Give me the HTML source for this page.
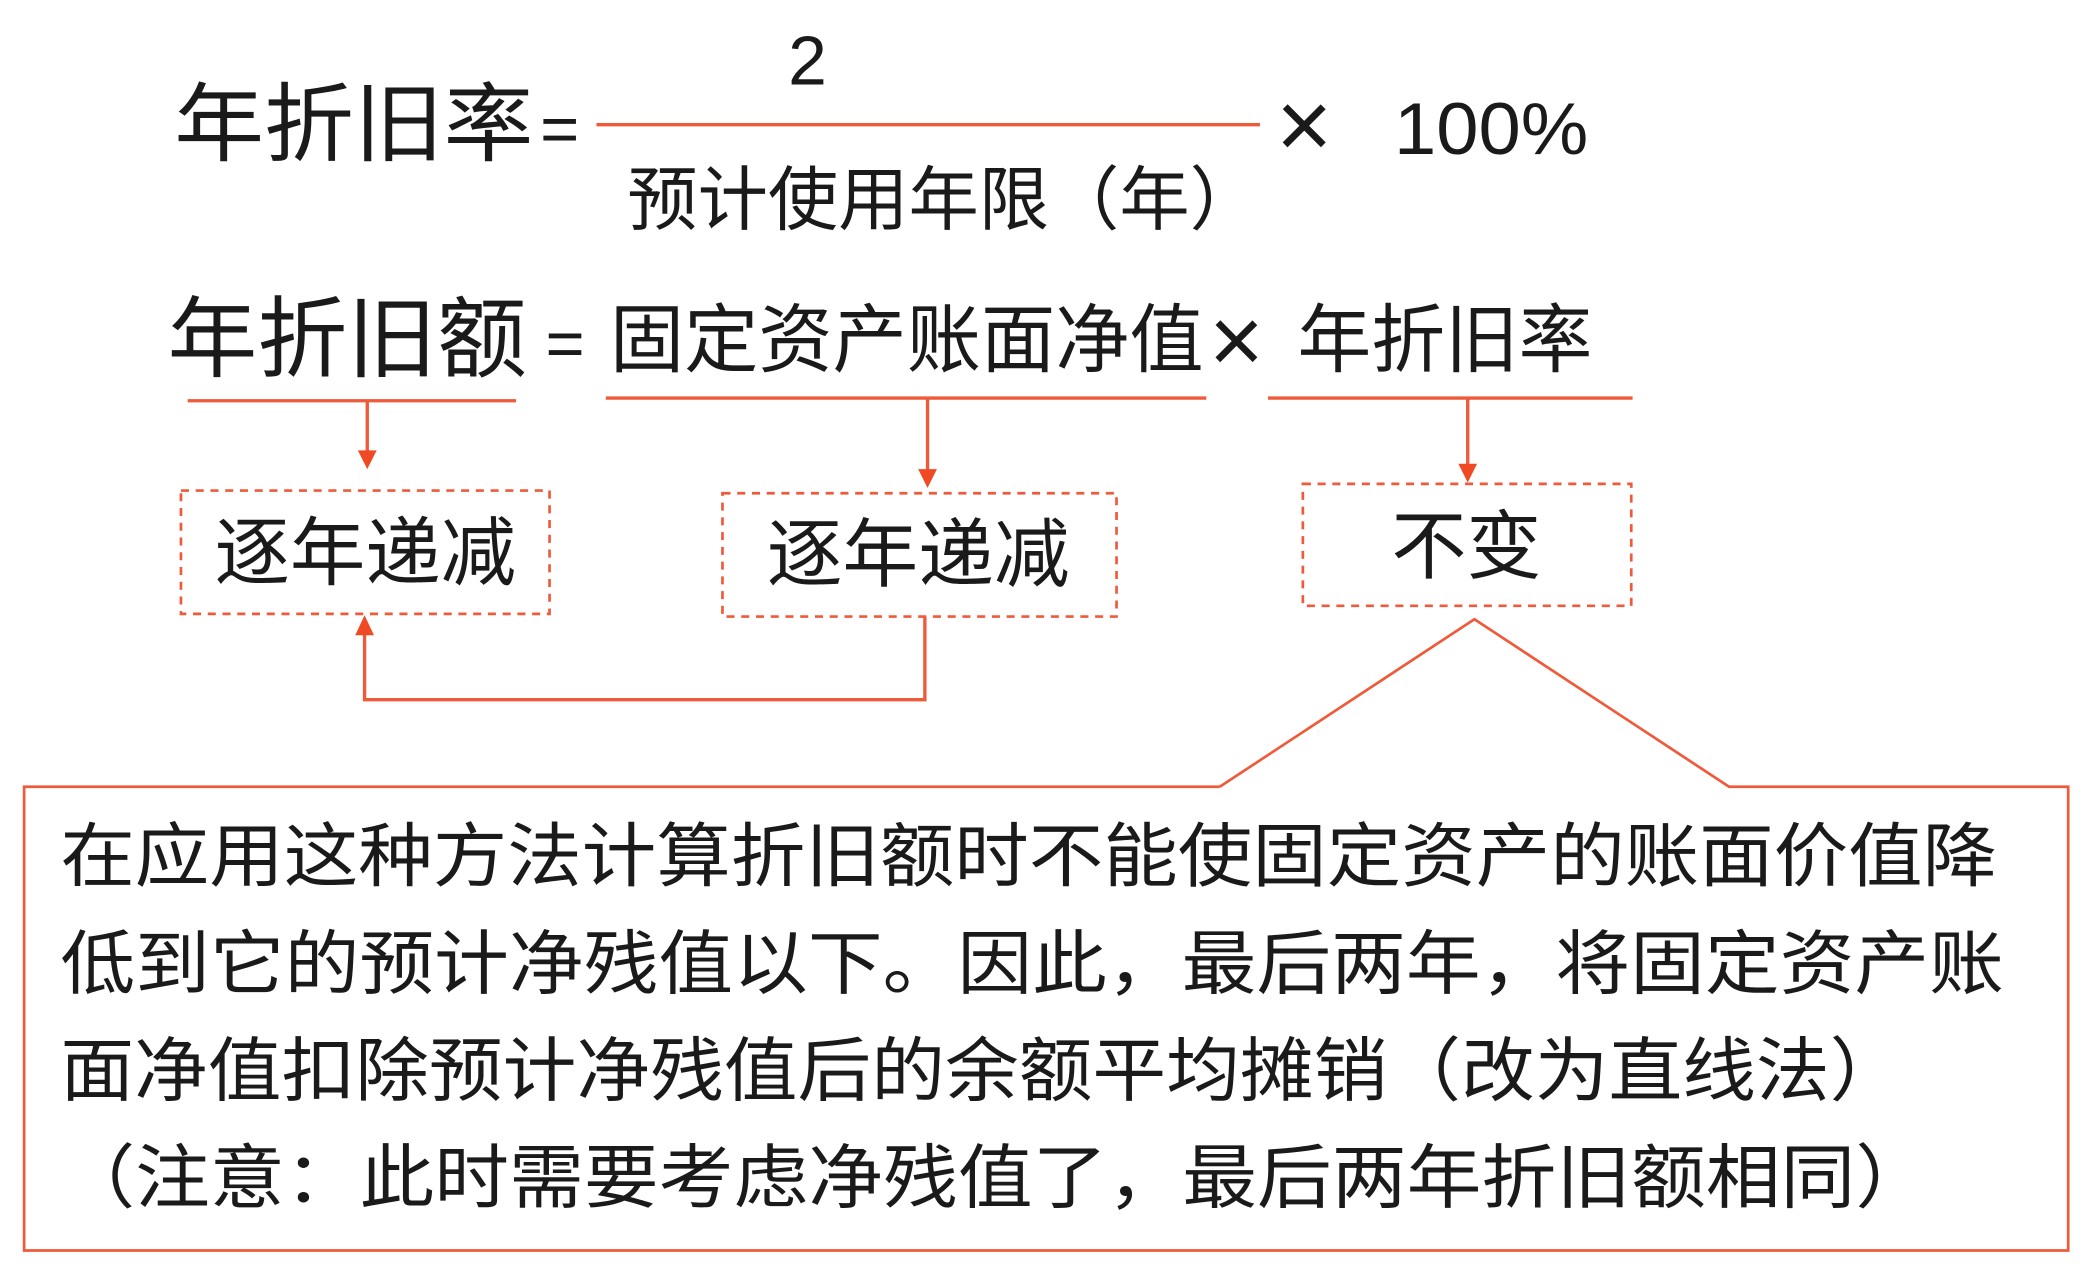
<!DOCTYPE html>
<html><head><meta charset="utf-8"><style>
html,body{margin:0;padding:0;background:#fff;}
svg{display:block}
text{font-family:"Liberation Sans","Noto Sans CJK SC",sans-serif;fill:#1a1a1a;}
</style></head><body>
<svg width="2091" height="1280" viewBox="0 0 1560 955" preserveAspectRatio="none" xmlns="http://www.w3.org/2000/svg">
<!-- row 1 -->
<text x="130" y="115" font-size="64" textLength="268" lengthAdjust="spacingAndGlyphs">年折旧率</text>
<text x="403" y="113" font-size="50">=</text>
<line x1="445" y1="93" x2="940" y2="93" stroke="#ef5a3a" stroke-width="2.5"/>
<text x="588" y="63" font-size="52" font-family="Liberation Serif">2</text>
<text x="468" y="167" font-size="52" textLength="472" lengthAdjust="spacingAndGlyphs">预计使用年限（年）</text>
<text x="952" y="118" font-size="72" font-weight="100">×</text>
<text x="1040" y="115" font-size="55" font-family="Liberation Serif" textLength="145" lengthAdjust="spacingAndGlyphs">100%</text>
<!-- row 2 -->
<text x="125" y="276" font-size="66" textLength="268" lengthAdjust="spacingAndGlyphs">年折旧额</text>
<text x="407" y="273" font-size="50">=</text>
<text x="455" y="273" font-size="56" textLength="443" lengthAdjust="spacingAndGlyphs">固定资产账面净值</text>
<text x="902" y="278" font-size="70">×</text>
<text x="968" y="273" font-size="56" textLength="220" lengthAdjust="spacingAndGlyphs">年折旧率</text>
<g stroke="#ef5a3a" stroke-width="2.5" fill="none">
<line x1="140" y1="299" x2="385" y2="299"/>
<line x1="452" y1="297" x2="900" y2="297"/>
<line x1="946" y1="297" x2="1218" y2="297"/>
<line x1="274" y1="299" x2="274" y2="338"/>
<line x1="692" y1="297" x2="692" y2="352"/>
<line x1="1095" y1="297" x2="1095" y2="348"/>
<polyline points="690,460 690,522 272,522 272,472"/>
</g>
<g fill="#ef4a24">
<polygon points="267,336 281,336 274,350"/>
<polygon points="685,350 699,350 692,364"/>
<polygon points="1088,346 1102,346 1095,360"/>
<polygon points="265,474 279,474 272,459"/>
</g>
<g stroke="#ef5a3a" stroke-width="2" fill="none" stroke-dasharray="6,5">
<rect x="135" y="366" width="275" height="92"/>
<rect x="539" y="368" width="294" height="92"/>
<rect x="972" y="361" width="245" height="91"/>
</g>
<text x="160" y="432" font-size="56" textLength="225" lengthAdjust="spacingAndGlyphs">逐年递减</text>
<text x="572" y="433" font-size="56" textLength="226" lengthAdjust="spacingAndGlyphs">逐年递减</text>
<text x="1038" y="427" font-size="56" textLength="112" lengthAdjust="spacingAndGlyphs">不变</text>
<!-- callout -->
<polyline points="910,587 18,587 18,933 1543,933 1543,587 1290,587 1100,462 910,587" stroke="#ef5a3a" stroke-width="2" fill="none"/>
<text x="45" y="657" font-size="52" textLength="1445" lengthAdjust="spacingAndGlyphs">在应用这种方法计算折旧额时不能使固定资产的账面价值降</text>
<text x="45" y="737" font-size="52" textLength="1450" lengthAdjust="spacingAndGlyphs">低到它的预计净残值以下。因此，最后两年，将固定资产账</text>
<text x="45" y="817" font-size="52" textLength="1375" lengthAdjust="spacingAndGlyphs">面净值扣除预计净残值后的余额平均摊销（改为直线法）</text>
<text x="45" y="897" font-size="52" textLength="1395" lengthAdjust="spacingAndGlyphs">（注意：此时需要考虑净残值了，最后两年折旧额相同）</text>
</svg>
</body></html>
